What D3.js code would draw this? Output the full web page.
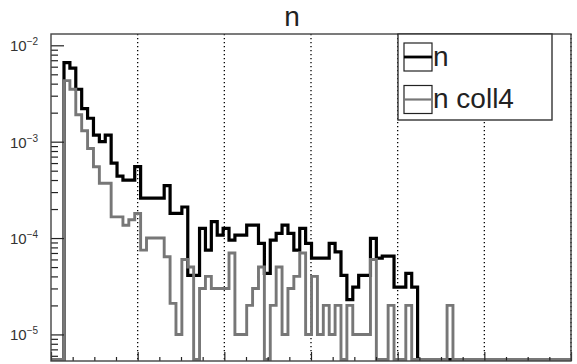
<!DOCTYPE html>
<html>
<head>
<meta charset="utf-8">
<script src="https://cdn.jsdelivr.net/npm/d3@7"></script>
<style>
body { margin: 0; background: #fff; }
svg { display: block; font-family: "Liberation Sans", Arial, sans-serif; }
</style>
</head>
<body>
<script>

// axis ticks
var xTicks = [0, 1, 2, 3, 4, 5, 6];
var yMajor = [1e-5, 1e-4, 1e-3, 1e-2];
var yLabels = ["-5", "-4", "-3", "-2"];

// histogram binning
var binStart = 0.15, binWidth = 0.068;

// "n" (black)
var nVals = [6.6e-3, 5.8e-3, 3.5e-3, 2.2e-3, 1.75e-3, 1.17e-3, 1.0e-3, 1.17e-3, 6.0e-4, 4.4e-4,
             4.0e-4, 4.0e-4, 5.5e-4, 2.6e-4, 2.6e-4, 2.6e-4, 2.6e-4, 3.5e-4, 1.8e-4, 1.8e-4,
             2.1e-4, 4.1e-5, 4.1e-5, 1.26e-4, 7.5e-5, 1.48e-4, 1.07e-4, 1.26e-4, 9.5e-5, 1.07e-4,
             1.07e-4, 1.36e-4, 1.36e-4, 8.8e-5, 4.3e-5, 9.5e-5, 1.12e-4, 1.36e-4, 1.12e-4, 7.5e-5,
             1.26e-4, 8.8e-5, 6.2e-5, 6.2e-5, 6.2e-5, 8.8e-5, 7.2e-5, 4.1e-5, 2.3e-5, 3.1e-5,
             4.1e-5, 4.1e-5, 9.9e-5, 6.2e-5, 6.5e-5, 6.5e-5, 3.1e-5, 3.1e-5, 4.3e-5, 3.1e-5];

// "n coll4" (grey)
var collVals = [4.3e-3, 3.5e-3, 1.9e-3, 1.3e-3, 8.5e-4, 5.5e-4, 3.7e-4, 3.7e-4, 1.66e-4, 1.66e-4,
                1.36e-4, 1.55e-4, 1.8e-4, 7.5e-5, 1.0e-4, 1.0e-4, 1.0e-4, 6.4e-5, 2.1e-5, 1.0e-5,
                6.0e-5, 5.0e-5, 0, 3.0e-5, 4.0e-5, 3.0e-5, 3.0e-5, 3.0e-5, 7.0e-5, 1.0e-5,
                1.0e-5, 2.0e-5, 3.0e-5, 5.0e-5, 0, 2.0e-5, 5.0e-5, 1.0e-5, 3.0e-5, 4.0e-5,
                7.0e-5, 1.0e-5, 4.0e-5, 1.0e-5, 2.0e-5, 1.0e-5, 2.0e-5, 0, 2.0e-5, 1.0e-5,
                1.0e-5, 1.0e-5, 6.0e-5, 0, 0, 2.0e-5, 0, 0, 2.0e-5, 0,
                0, 0, 0, 0, 0, 2.0e-5, 0];

var legendNames = ["n", "n coll4"];
var colors = ["#000000", "#777777"];

var W = 577, H = 364;
var fLeft = 51, fRight = 571, fTop = 34, fBottom = 361;

var svg = d3.select("body").append("svg")
    .attr("width", W)
    .attr("height", H);

var x = d3.scaleLinear().domain([0, 6]).range([fLeft, fRight]);
var y = d3.scaleLog().domain([5.3e-6, 1.31e-2]).range([fBottom, fTop]).clamp(true);

svg.append("defs").append("clipPath").attr("id", "frame")
    .append("rect")
    .attr("x", fLeft).attr("y", fTop)
    .attr("width", fRight - fLeft).attr("height", fBottom - fTop);

// dotted grid
svg.append("g").selectAll("line")
    .data(xTicks.slice(1))
    .enter().append("line")
    .attr("x1", function(d) { return x(d); })
    .attr("x2", function(d) { return x(d); })
    .attr("y1", fTop)
    .attr("y2", fBottom)
    .attr("stroke", "#000")
    .attr("stroke-width", 1.3)
    .attr("stroke-dasharray", "1.3,2.7");

// histograms
function histPoints(vals) {
  var pts = [{x: 0, v: 0}];
  for (var i = 0; i < vals.length; i++) {
    pts.push({x: binStart + i * binWidth, v: vals[i]});
  }
  pts.push({x: binStart + vals.length * binWidth, v: 0});
  pts.push({x: 6, v: 0});
  return pts;
}

var line = d3.line()
    .x(function(d) { return x(d.x); })
    .y(function(d) { return d.v > 0 ? y(d.v) : fBottom - 1.5; })
    .curve(d3.curveStepAfter);

var series = [nVals, collVals];
svg.append("g").attr("clip-path", "url(#frame)")
  .selectAll("path")
    .data(series)
    .enter().append("path")
    .attr("d", function(d) { return line(histPoints(d)); })
    .attr("fill", "none")
    .attr("stroke", function(d, i) { return colors[i]; })
    .attr("stroke-width", function(d, i) { return i == 0 ? 3.2 : 2.9; })
    .attr("stroke-linejoin", "miter");

// y axis: ticks point inward
var minor = [];
yMajor.concat([1e-6]).forEach(function(m) {
  for (var k = 2; k <= 9; k++) {
    var v = m * k;
    if (v > y.domain()[0] && v < y.domain()[1]) minor.push(v);
  }
});

svg.append("g")
    .attr("transform", "translate(" + fLeft + ",0)")
    .call(d3.axisLeft(y).tickValues(yMajor).tickSize(-13).tickFormat(function() { return ""; }))
    .call(function(g) { g.select(".domain").remove(); });
svg.append("g")
    .attr("transform", "translate(" + fLeft + ",0)")
    .call(d3.axisLeft(y).tickValues(minor).tickSize(-7).tickFormat(function() { return ""; }))
    .call(function(g) { g.select(".domain").remove(); });

// x axis ticks
var xMinor = d3.range(0, 6.01, 0.25).filter(function(v) { return v % 1 != 0; });
svg.append("g")
    .attr("transform", "translate(0," + fBottom + ")")
    .call(d3.axisBottom(x).tickValues(xTicks).tickSize(-9).tickFormat(function() { return ""; }))
    .call(function(g) { g.select(".domain").remove(); });
svg.append("g")
    .attr("transform", "translate(0," + fBottom + ")")
    .call(d3.axisBottom(x).tickValues(xMinor).tickSize(-4).tickFormat(function() { return ""; }))
    .call(function(g) { g.select(".domain").remove(); });
svg.selectAll(".tick line").attr("stroke", "#222").attr("stroke-width", 1.2);

// y labels 10^-n
var lab = svg.append("g").selectAll("text")
    .data(yMajor)
    .enter().append("text")
    .attr("x", 10)
    .attr("y", function(d) { return y(d) + 6; })
    .attr("font-size", 15)
    .attr("fill", "#333");
lab.append("tspan").text("10");
lab.append("tspan")
    .attr("dy", -6)
    .attr("font-size", 10)
    .text(function(d, i) { return "\u2212" + yLabels[i].slice(1); });

// frame
svg.append("rect")
    .attr("x", fLeft).attr("y", fTop)
    .attr("width", fRight - fLeft).attr("height", fBottom - fTop)
    .attr("fill", "none")
    .attr("stroke", "#444")
    .attr("stroke-width", 1.4);

// title
svg.append("text")
    .attr("x", 292)
    .attr("y", 26)
    .attr("text-anchor", "middle")
    .attr("font-size", 28)
    .attr("fill", "#222")
    .text("n");

// legend
var leg = svg.append("g");
leg.append("rect")
    .attr("x", 398).attr("y", fTop)
    .attr("width", 154).attr("height", 86)
    .attr("fill", "#fff")
    .attr("stroke", "#333")
    .attr("stroke-width", 1.4);

var entry = leg.selectAll("g.entry")
    .data(legendNames)
    .enter().append("g")
    .attr("class", "entry")
    .attr("transform", function(d, i) { return "translate(0," + (i * 42.5) + ")"; });
entry.append("rect")
    .attr("x", 404).attr("y", 43)
    .attr("width", 28).attr("height", 28)
    .attr("fill", "none")
    .attr("stroke", "#222")
    .attr("stroke-width", 1.2);
entry.append("line")
    .attr("x1", 404).attr("x2", 432)
    .attr("y1", 57).attr("y2", 57)
    .attr("stroke", function(d, i) { return colors[i]; })
    .attr("stroke-width", function(d, i) { return i == 0 ? 2.8 : 2.2; });
entry.append("text")
    .attr("x", 433)
    .attr("y", 65.5)
    .attr("font-size", 28)
    .attr("fill", "#222")
    .text(function(d) { return d; });

</script>
</body>
</html>
